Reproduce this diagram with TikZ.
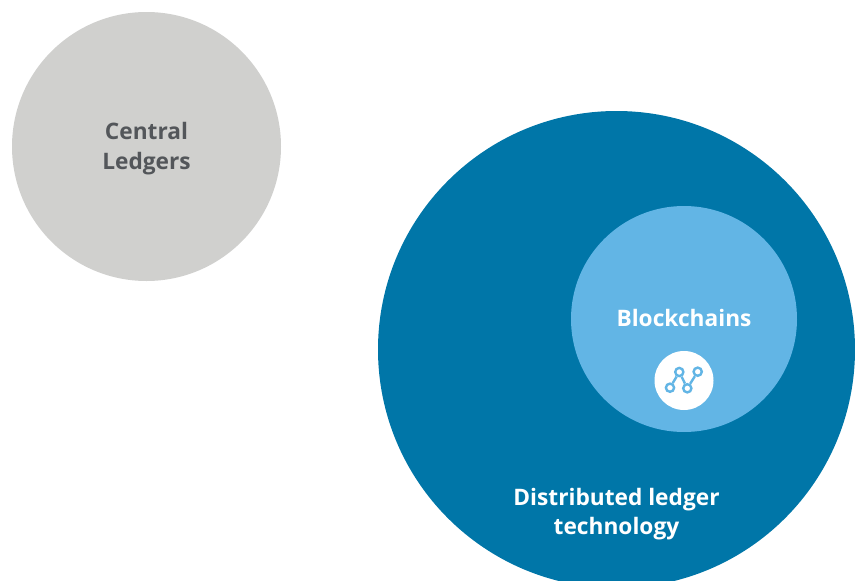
\documentclass[tikz,border=0pt]{standalone}
\usepackage{fontspec}
\setmainfont{Open Sans}
\definecolor{dblue}{HTML}{0076A8}
\definecolor{lblue}{HTML}{62B5E5}
\definecolor{lgrey}{HTML}{D0D0CE}
\definecolor{tgrey}{HTML}{53565A}
\tikzset{
  disc/.style={circle,fill=#1,draw=none,inner sep=0pt},
  lab/.style={align=center,font=\fontsize{22.7}{29.5}\selectfont\bfseries,text=#1,inner sep=0pt},
  dot/.style={circle,draw=lblue,line width=2.4pt,fill=white,minimum size=8.2pt,inner sep=0pt},
  link/.style={draw=lblue,line width=2.4pt}
}
\begin{document}
\begin{tikzpicture}[x=1pt,y=-1pt]
\useasboundingbox (0,0) rectangle (855,581);
\clip (0,0) rectangle (855,581);
\node[disc=lgrey,minimum size=269pt] (central) at (146.5,146.5) {};
\node[disc=dblue,minimum size=477pt] (dlt) at (616.5,349.5) {};
\node[disc=lblue,minimum size=226pt] (chain) at (684,319) {};
\node[disc=white,minimum size=59pt] (badge) at (684,380.5) {};
\node[lab=tgrey] (centraltext) at (146.5,148.6) {Central\\Ledgers};
\node[lab=white] (chaintext) at (684,318) {Blockchains};
\node[lab=white] (dlttext) at (616.5,514) {Distributed ledger\\technology};
\node[dot] (d1) at (670,387.7) {};
\node[dot] (d2) at (679.3,372) {};
\node[dot] (d3) at (687.3,388.3) {};
\node[dot] (d4) at (697.7,371.7) {};
\draw[link] (d1) -- (d2);
\draw[link] (d2) -- (d3);
\draw[link] (d3) -- (d4);
\end{tikzpicture}
\end{document}
